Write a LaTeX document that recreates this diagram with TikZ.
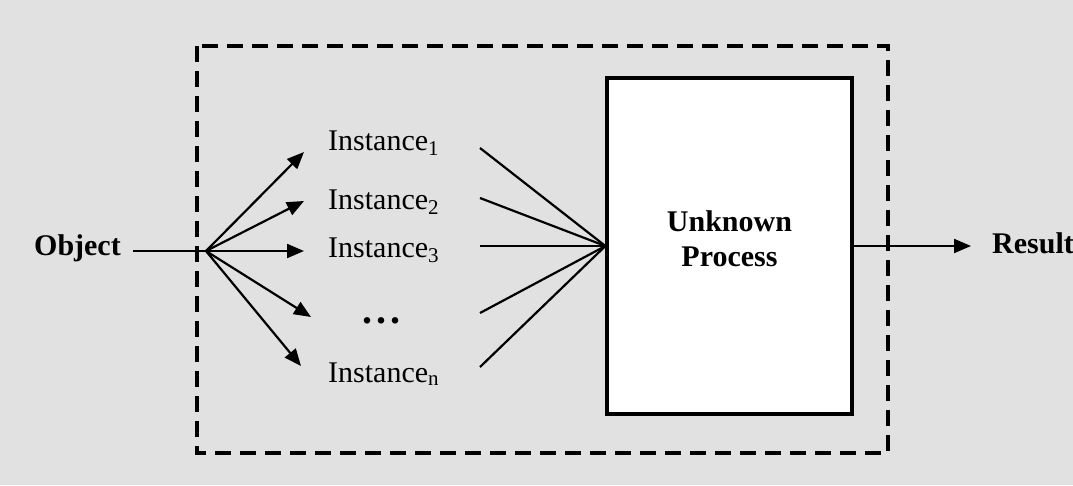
\documentclass[tikz,border=0pt]{standalone}
\usepackage{fontspec}
\setmainfont{Liberation Serif}
\usetikzlibrary{arrows.meta}
\begin{document}
\begin{tikzpicture}[x=1pt,y=-1pt,
  inst/.style={anchor=base west,inner sep=0pt,font=\fontsize{30}{30}\selectfont},
  boldtxt/.style={inner sep=0pt,font=\fontsize{30}{30}\selectfont\bfseries},
  arr/.style={line width=2.2pt,-{Triangle[length=17pt,width=14pt]}},
  ln/.style={line width=2.2pt}]
\useasboundingbox (0,0) rectangle (1073,485);
\fill[fill={rgb,255:red,225;green,225;blue,225}] (0,0) rectangle (1073,485);
% dashed frame
\draw[line width=3.4pt,dash pattern=on 16pt off 9pt] (197,46) rectangle (888,453);
% process box
\node[draw,fill=white,line width=3.2pt,minimum width=245pt,minimum height=336pt,inner sep=0pt] (box) at (729.5,246) {};
\node[boldtxt,align=center] (ptext) at (729.5,239) {Unknown\\[5pt]Process};
% object
\node[boldtxt,anchor=base east] (obj) at (121,255) {Object};
\coordinate (fan) at (206,251);
\draw[ln] (133,251) -- (fan);
% instances
\node[inst] (i1) at (328,150) {Instance\textsubscript{1}};
\node[inst] (i2) at (328,209) {Instance\textsubscript{2}};
\node[inst] (i3) at (328,257) {Instance\textsubscript{3}};
\node[inner sep=0pt,font=\fontsize{40}{40}\selectfont\bfseries] (dots) at (381,321) {.\kern4pt.\kern4pt.};
\node[inst] (in) at (328,382) {Instance\textsubscript{n}};
% fan-out arrows
\coordinate (t1) at (304,152);
\coordinate (t2) at (304,201);
\coordinate (t3) at (304,251);
\coordinate (t4) at (311,317);
\coordinate (t5) at (301,366);
\foreach \t in {t1,t2,t3,t4,t5} \draw[arr] (fan) -- (\t);
% fan-in lines
\coordinate (s1) at (480,148);
\coordinate (s2) at (480,198);
\coordinate (s3) at (480,246);
\coordinate (s4) at (480,313);
\coordinate (s5) at (480,367);
\foreach \s in {s1,s2,s3,s4,s5} \draw[ln] (\s) -- (box.west);
% result
\coordinate (rt) at (971,246);
\draw[arr] (box.east) -- (rt);
\node[boldtxt,anchor=base west] (res) at (992,253) {Result};
\end{tikzpicture}
\end{document}
